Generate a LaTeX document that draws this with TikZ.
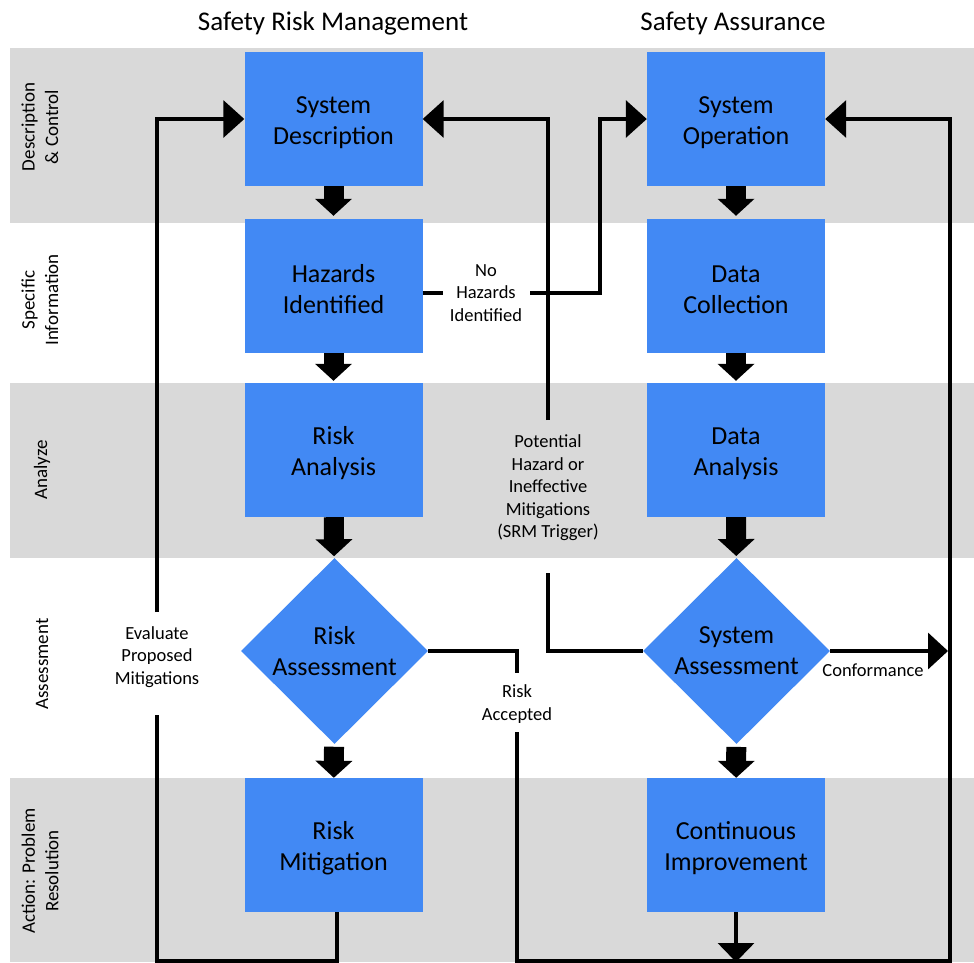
\documentclass[tikz,border=0pt]{standalone}
\usepackage{fontspec}
\setmainfont{Carlito}
\usetikzlibrary{arrows.meta,shapes.geometric}
\definecolor{boxblue}{HTML}{4289F4}
\definecolor{bandgray}{HTML}{D9D9D9}
\begin{document}
\begin{tikzpicture}[x=1pt,y=-1pt,
  band/.style={fill=bandgray},
  procbox/.style={rectangle, fill=boxblue, minimum width=178pt, minimum height=134pt, inner sep=0pt},
  boxlabel/.style={align=center, inner sep=0pt, yshift=-3.5pt, font=\fontsize{26}{31}\selectfont},
  decbox/.style={diamond, fill=boxblue, minimum width=187pt, minimum height=186pt, inner sep=0pt},
  dectext/.style={align=center, inner sep=0pt, font=\fontsize{26}{31}\selectfont},
  titletext/.style={font=\fontsize{27}{32}\selectfont, inner sep=0pt, anchor=base},
  rowlabel/.style={rotate=90, align=center, inner sep=0pt, font=\fontsize{19}{23.5}\selectfont},
  lbl/.style={align=center, inner sep=0pt, font=\fontsize{18.5}{22.5}\selectfont},
  flow/.style={line width=20pt, -{Triangle[length=17pt,width=36pt]}},
  conn/.style={line width=3.5pt, line join=miter},
  connarrow/.style={conn, -{Triangle[length=21pt,width=37pt]}},
]
\useasboundingbox (0,0) rectangle (974,962);
% bands
\fill[band] (10,48) rectangle (974,223);
\fill[band] (10,383) rectangle (974,558);
\fill[band] (10,778) rectangle (974,962);

% titles
\node[titletext] (t1) at (333,30) {Safety Risk Management};
\node[titletext] (t2) at (733,30) {Safety Assurance};

% row labels
\node[rowlabel] (r1) at (40,127) {Description\\\& Control};
\node[rowlabel] (r2) at (40,300) {Specific\\Information};
\node[rowlabel] (r3) at (42,470) {Analyze};
\node[rowlabel] (r4) at (42,664) {Assessment};
\node[rowlabel] (r5) at (40,871) {Action: Problem\\Resolution};

% column 1
\node[procbox, label={[boxlabel]center:{System\\Description}}] (SD) at (333.5,119) {};
\node[procbox, label={[boxlabel]center:{Hazards\\Identified}}] (HI) at (333.5,286) {};
\node[procbox, label={[boxlabel]center:{Risk\\Analysis}}] (RA) at (333.5,450) {};
\node[decbox] (RAd) at (334.5,651) {};
\node[dectext] (RAt) at (334.5,651) {Risk\\Assessment};
\node[procbox, label={[boxlabel]center:{Risk\\Mitigation}}] (RM) at (333.5,845) {};

% column 2
\node[procbox, label={[boxlabel]center:{System\\Operation}}] (SO) at (736,119) {};
\node[procbox, label={[boxlabel]center:{Data\\Collection}}] (DC) at (736,286) {};
\node[procbox, label={[boxlabel]center:{Data\\Analysis}}] (DA) at (736,450) {};
\node[decbox] (SAd) at (736.5,651) {};
\node[dectext] (SAt) at (736.5,651) {System\\Assessment};
\node[procbox, label={[boxlabel]center:{Continuous\\Improvement}}] (CI) at (736,845) {};

% block arrows
\draw[flow, shorten >=3pt] (SD) -- (HI);
\draw[flow, shorten >=2pt] (HI) -- (RA);
\draw[flow, shorten >=2pt] (RA) -- (RAd);
\draw[flow, shorten <=3pt] (RAd) -- (RM);
\draw[flow, shorten >=3pt] (SO) -- (DC);
\draw[flow, shorten >=2pt] (DC) -- (DA);
\draw[flow, shorten >=2pt] (DA) -- (SAd);
\draw[flow, shorten <=3pt] (SAd) -- (CI);

% continuous improvement out
\coordinate (CIend) at (736,962);
\draw[conn, -{Triangle[length=19pt,width=36pt]}] (CI) -- (CIend);

% evaluate proposed mitigations loop
\node[lbl] (evtxt) at (157,657) {Evaluate\\Proposed\\Mitigations};
\coordinate (evlow) at (157,715);
\coordinate (evhigh) at (157,612);
\coordinate (evbot) at (157,961);
\draw[conn] ([xshift=3.5pt]RM.south) |- (evbot) -- (evlow);
\draw[connarrow] (evhigh) |- (SD.west);

% SRM trigger
\node[lbl] (srm) at (548,488) {Potential\\Hazard or\\Ineffective\\Mitigations\\(SRM Trigger)};
\coordinate (srmlow) at (548,573);
\coordinate (srmhigh) at (548,420);
\draw[conn] (SAd.west) -| (srmlow);
\draw[connarrow] (srmhigh) |- (SD.east);

% no hazards identified
\node[lbl] (nh) at (486,293) {No\\Hazards\\Identified};
\coordinate (nhl) at (443,293);
\coordinate (nhr) at (530,293);
\coordinate (nhc) at (600,293);
\draw[conn] ([yshift=-7pt]HI.east) -- (nhl);
\draw[connarrow] (nhr) -- (nhc) |- (SO.west);

% risk accepted
\node[lbl] (racc) at (517,704) {Risk\\Accepted};
\coordinate (rahigh) at (517,673);
\coordinate (ralow) at (517,732);
\coordinate (rabot) at (950,961);
\draw[conn] (RAd.east) -| (rahigh);
\draw[connarrow] (ralow) |- (rabot) |- (SO.east);

% conformance
\coordinate (confend) at (948,651);
\draw[conn, -{Triangle[length=20pt,width=36pt]}] (SAd.east) -- (confend);
\node[lbl] (conf) at (873,670) {Conformance};
\end{tikzpicture}
\end{document}
